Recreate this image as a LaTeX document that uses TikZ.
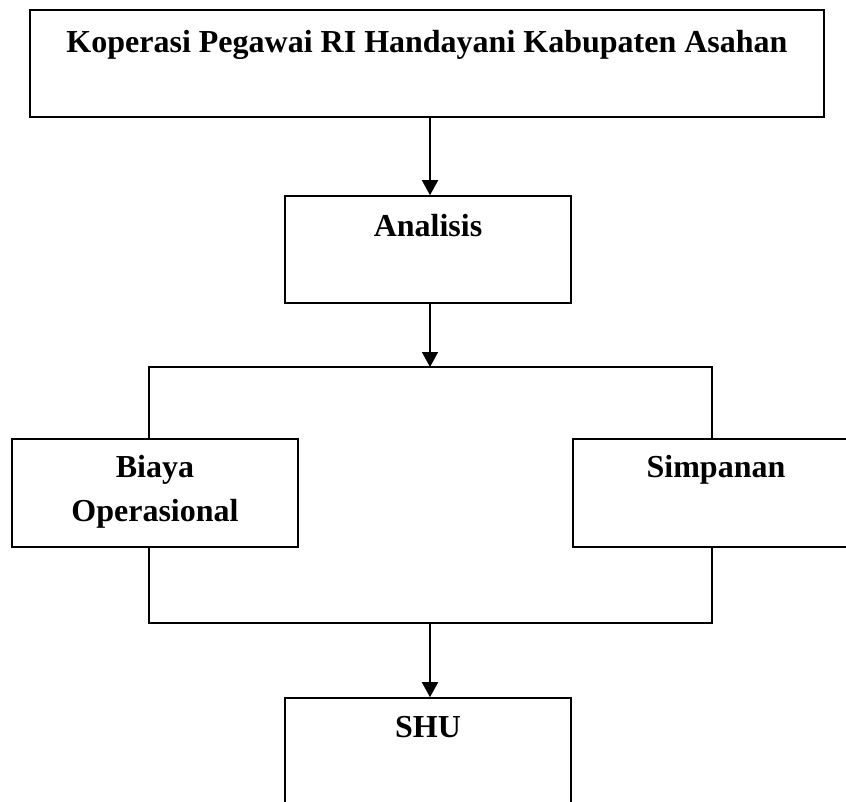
\documentclass[tikz,border=0pt]{standalone}
\usepackage{fontspec}
\setmainfont{Liberation Serif}
\usetikzlibrary{arrows.meta,positioning}

\begin{document}
\begin{tikzpicture}[x=1pt,y=-1pt,
    kotak/.style={draw,line width=1.6pt,rectangle,inner sep=0pt},
    teks/.style={inner sep=0pt,anchor=base,align=center,
        font=\fontsize{32}{44}\selectfont\bfseries},
    garis/.style={line width=1.6pt},
    panah/.style={line width=1.6pt,-{Triangle[length=15pt,width=16pt]}}]
    \useasboundingbox (0,0) rectangle (846,801);
    %kotak
    \node[kotak,minimum width=794pt,minimum height=107pt] (koperasi) at (427,63.5){};
    \node[kotak,minimum width=286pt,minimum height=107pt] (analisis) at (428,249.5){};
    \node[kotak,minimum width=286pt,minimum height=108pt] (biaya) at (155,493){};
    \node[kotak,minimum width=286pt,minimum height=108pt] (simpanan) at (716,493){};
    \node[kotak,minimum width=286pt,minimum height=107pt] (shu) at (428,751.5){};
    %tulisan
    \node[teks] (tkoperasi) at ([yshift=-43pt]koperasi.north){Koperasi Pegawai RI Handayani Kabupaten Asahan};
    \node[teks] (tanalisis) at ([yshift=-41pt]analisis.north){Analisis};
    \node[teks] (tbiaya) at ([yshift=-39pt]biaya.north){Biaya};
    \node[teks] (toperasional) at ([yshift=-83pt]biaya.north){Operasional};
    \node[teks] (tsimpanan) at ([yshift=-39pt]simpanan.north){Simpanan};
    \node[teks] (tshu) at ([yshift=-40pt]shu.north){SHU};
    %titik cabang
    \coordinate (cabang) at (430,367);
    \coordinate (gabung) at (430,623);
    %garis cabang
    \draw[garis]([xshift=-6pt]biaya.north)|-(cabang)-|([xshift=-4pt]simpanan.north);
    \draw[garis]([xshift=-6pt]biaya.south)|-(gabung)-|([xshift=-4pt]simpanan.south);
    %panah
    \draw[panah](koperasi.south-|cabang)--(analisis.north-|cabang);
    \draw[panah](analisis.south-|cabang)--(cabang);
    \draw[panah](gabung)--(shu.north-|gabung);
\end{tikzpicture}
\end{document}
